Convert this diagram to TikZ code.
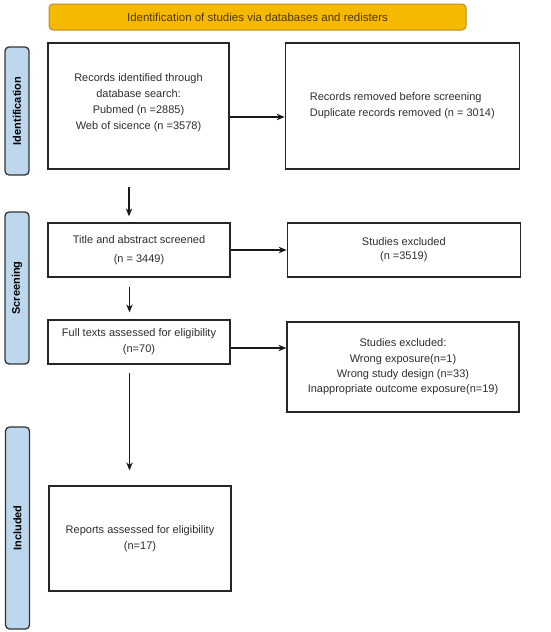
\documentclass[tikz,border=0pt]{standalone}
\usepackage{fontspec}
\setmainfont{Liberation Sans}
\usetikzlibrary{positioning,arrows.meta}
\definecolor{bannerfill}{RGB}{245,185,0}
\definecolor{bannerline}{RGB}{185,140,40}
\definecolor{bannertext}{RGB}{80,55,0}
\definecolor{phasefill}{RGB}{189,215,238}
\definecolor{boxtext}{RGB}{45,45,45}

\begin{document}
\begin{tikzpicture}[x=1pt,y=-1pt,>={Stealth[length=8pt,width=6.5pt]},thick,
  box/.style={draw=black!85,line width=1.3pt,rectangle,align=center,text=boxtext,font=\fontsize{11}{16}\selectfont,inner sep=2pt},
  phase/.style={draw=black!80,line width=1.3pt,rounded corners=4pt,fill=phasefill,rotate=90,font=\fontsize{11}{12}\selectfont\bfseries,minimum height=24pt,inner sep=0pt},
  arr/.style={->,line width=1.1pt,black!90}]

    \useasboundingbox (0,0) rectangle (550,632);

    \node[draw=bannerline,fill=bannerfill,rounded corners=4pt,line width=1pt,minimum width=417pt,minimum height=26pt,text=bannertext,font=\fontsize{11.5}{14}\selectfont] (banner) at (257.5,17) {Identification of studies via databases and redisters};

    % phase labels
    \node[phase,minimum width=128pt] (idlbl) at (17,111) {Identification};
    \node[phase,minimum width=152pt] (scrlbl) at (17,288) {Screening};
    \node[phase,minimum width=202pt] (inclbl) at (17.5,528) {Included};

    % main column
    \node[box,minimum width=181pt,minimum height=126pt] (rec) at (138.5,106) {Records identified through\\database search:\\Pubmed (n =2885)\\Web of sicence (n =3578)\\[-8pt]\mbox{}};
    \node[box,minimum width=182pt,minimum height=54pt,font=\fontsize{11}{19}\selectfont] (ttl) at (139,250) {Title and abstract screened\\(n = 3449)};
    \node[box,minimum width=182pt,minimum height=44pt] (full) at (139,342) {Full texts assessed for eligibility\\(n=70)};
    \node[box,minimum width=182pt,minimum height=105pt] (rep) at (140,538.5) {Reports assessed for eligibility\\(n=17)};

    % excluded column
    \node[box,minimum width=234pt,minimum height=126pt,align=left] (dup) [right=55pt of rec] {Records removed before screening\\Duplicate records removed (n = 3014)};
    \node[box,minimum width=233pt,minimum height=54pt,font=\fontsize{11}{14}\selectfont] (exc1) [right=56pt of ttl] {Studies excluded\\(n =3519)};
    \node[box,minimum width=232pt,minimum height=90pt,font=\fontsize{11}{15.3}\selectfont] (exc2) at (403,367) {Studies excluded:\\Wrong exposure(n=1)\\Wrong study design (n=33)\\Inappropriate outcome exposure(n=19)};

    \draw[arr] ([yshift=-11pt]rec.east) -- ([yshift=-11pt]dup.west);
    \draw[arr] (ttl) -- (exc1);
    \draw[arr] ([yshift=-6pt]full.east) -- ([yshift=-6pt]full.east -| exc2.west);

    \draw[arr,shorten <=17pt,shorten >=6pt] ([xshift=-9.5pt]rec.south) -- ([xshift=-9.5pt]rec.south |- ttl.north);
    \draw[arr,shorten <=9pt,shorten >=7pt] ([xshift=-9.5pt]ttl.south) -- ([xshift=-9.5pt]ttl.south |- full.north);
    \draw[arr,shorten <=8pt,shorten >=15pt] ([xshift=-9.5pt]full.south) -- ([xshift=-9.5pt]full.south |- rep.north);

\end{tikzpicture}
\end{document}
